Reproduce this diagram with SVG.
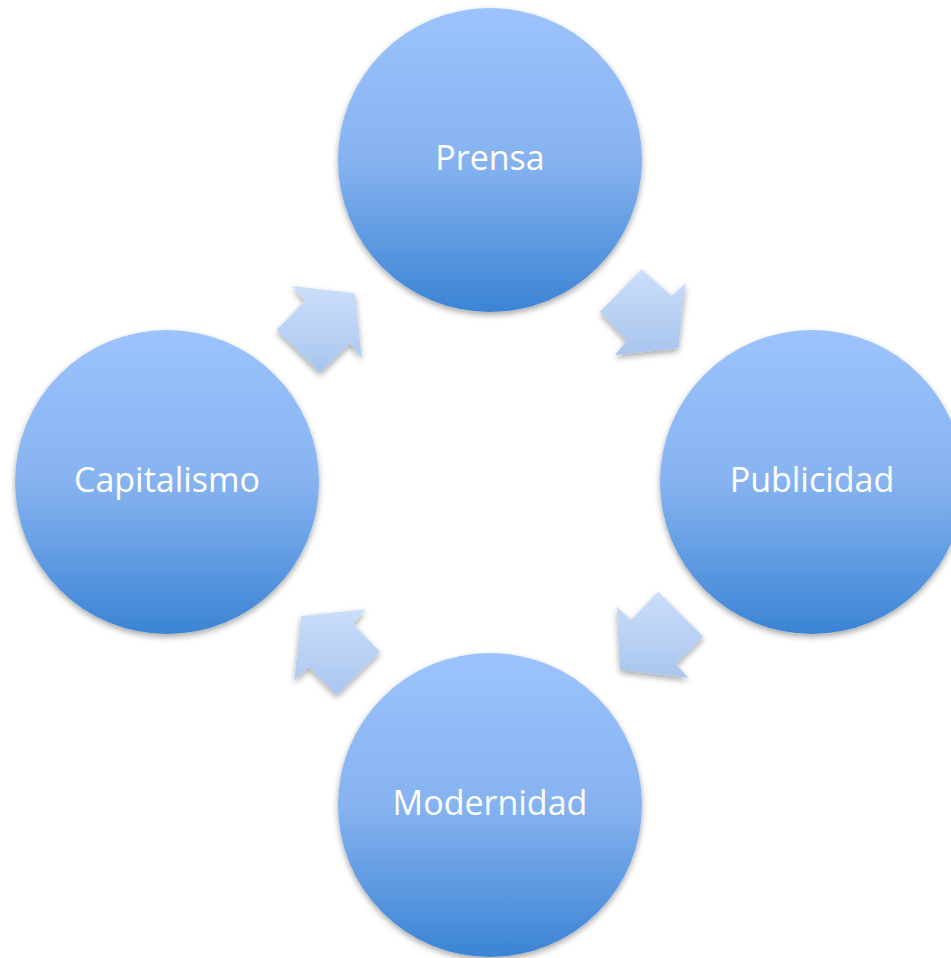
<svg xmlns="http://www.w3.org/2000/svg" width="951" height="958" viewBox="0 0 951 958">
<defs>
<linearGradient id="cg" x1="0" y1="0" x2="0" y2="1">
<stop offset="0" stop-color="#9cc3fd"/>
<stop offset="0.5" stop-color="#86b3f0"/>
<stop offset="1" stop-color="#3b84d4"/>
</linearGradient>
<linearGradient id="ag" x1="0" y1="0" x2="0" y2="1">
<stop offset="0" stop-color="#cbdefa"/>
<stop offset="1" stop-color="#a9c5ee"/>
</linearGradient>
<filter id="sh" x="-10%" y="-10%" width="120%" height="125%">
<feGaussianBlur in="SourceAlpha" stdDeviation="3"/>
<feOffset dx="0" dy="3" result="b"/>
<feComponentTransfer><feFuncA type="linear" slope="0.35"/></feComponentTransfer>
<feMerge><feMergeNode/><feMergeNode in="SourceGraphic"/></feMerge>
</filter>
</defs>
<style>
.node circle{fill:url(#cg);filter:url(#sh)}
.node text{font-family:"Open Sans","Noto Sans",sans-serif;font-size:34px;fill:#ffffff;text-anchor:middle}
.arr polygon{fill:url(#ag);filter:url(#sh)}
</style>
<rect width="951" height="958" fill="#ffffff"/>
<g id="connectors" class="arr">
<polygon points="291.7,286 355,293.3 361.7,358.3 350,343.3 320,372.7 276.7,330 305,300.7"/>
<polygon points="641.7,269.3 671.7,296 685.7,283.3 678.3,348.3 615,355 626.7,340.7 600,311.7"/>
<polygon points="658.3,591.7 703.3,636.7 675.7,664.3 688.3,677.7 620,670 616.7,606.7 631,620"/>
<polygon points="301,616 365.7,609.3 353.3,624 380,651.7 336.7,695 309,667.3 294.3,680"/>
</g>
<g id="prensa" class="node">
<circle cx="490" cy="160" r="152"/>
<text x="490" y="170">Prensa</text>
</g>
<g id="publicidad" class="node">
<circle cx="812" cy="482" r="152"/>
<text x="812" y="492">Publicidad</text>
</g>
<g id="modernidad" class="node">
<circle cx="490" cy="805" r="152"/>
<text x="490" y="815">Modernidad</text>
</g>
<g id="capitalismo" class="node">
<circle cx="167" cy="482" r="152"/>
<text x="167" y="492">Capitalismo</text>
</g>
</svg>
